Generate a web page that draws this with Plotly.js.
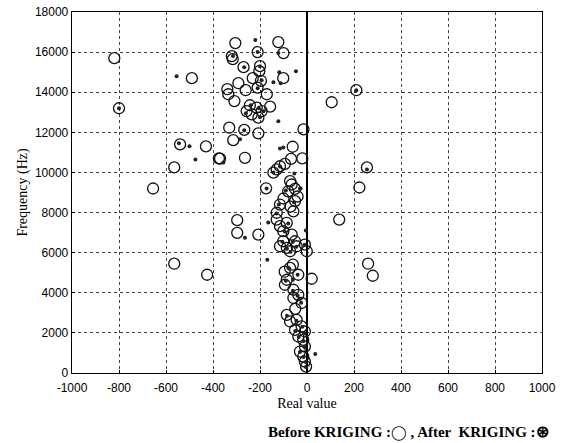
<!DOCTYPE html>
<html>
<head>
<meta charset="utf-8">
<script src="https://cdn.plot.ly/plotly-3.0.1.min.js"></script>
<style>html,body{margin:0;padding:0;background:#fff;}#chart{width:566px;height:443px;}</style>
</head>
<body>
<div id="chart"></div>
<script>
// Before KRIGING (open circles): real value, frequency (Hz)
const beforeX = [-820,-800,-490,-540,-430,-375,-565,-655,-565,-425,
  210,105,-15,-20,255,223,137,260,280,20,
  -305,-122,-210,-100,-320,-316,-270,-200,-203,-101,-231,-196,-292,-339,-335,-261,-210,-171,-309,-243,-214,-257,-193,-157,-207,-235,-331,-267,-207,-314,-370,-264,-61,-68,-94,-115,-143,-129,-72,-65,-80,-51,-174,
  -51,-58,-115,-129,-297,-297,-207,-129,-115,-101,-86,-65,-51,-101,-86,-115,-44,-72,-9,-1,-72,-37,-86,-94,-58,-37,-58,-23,-86,-72,-44,-23,-51,-9,-37,-16,-9,-30,-16,-9,-4,
  -95,-60,-100,-70,-40,-50];
const beforeY = [15700,13200,14700,11400,11300,10700,10250,9200,5450,4900,
  14100,13500,12150,10700,10250,9250,7650,5450,4850,4700,
  16450,16500,16000,15950,15800,15650,15250,15300,15050,14700,14700,14570,14450,14150,13900,14100,14230,13900,13560,13350,13230,13060,13060,13280,12730,12900,12230,12120,11950,11610,10690,10730,11280,10680,10430,10310,9990,10150,9570,9400,9060,9180,9210,
  8570,8060,8400,7990,7620,6990,6900,7650,7320,7070,7490,6900,6570,6570,6240,6320,6320,6070,6400,6070,5240,4900,4650,4400,4150,3900,3740,3490,2900,2570,2650,2320,2150,2070,1820,1650,1320,1070,820,570,320,
  5050,5400,8700,8300,8800,3200];
// After KRIGING (filled dots)
const afterX = [-800,-555,-545,-500,-475,210,255,-27,-5,35,
  -220,-210,-122,-315,-267,-200,-118,-47,-193,-143,-112,-210,-205,-240,-185,-200,-260,-122,-267,-285,-356,-115,-101,-54,-115,-143,-172,-30,
  -165,-264,-169,-90,-55,-120,-130,-95,-80,-60,-105,-85,-45,-70,-10,-80,-75,-40,-90,-60,-40,-25,-85,-45,-20,-50,-10,-35,-15,-10,-30,-15,-5,-5,-60,-30];
const afterY = [13200,14800,11450,11300,10650,14100,10150,9200,7100,950,
  16600,16000,15950,15800,15250,15300,15000,15050,14600,14500,14450,14200,13200,13350,13050,12750,12950,12550,12100,11650,10500,11200,11250,9950,10300,10000,9200,9200,
  7500,6750,5650,9100,8500,8400,7950,7050,7450,6550,6550,6200,6300,6050,6400,5250,5200,4900,4600,4100,3850,3500,2850,2600,2300,2100,2000,1800,1600,1300,1050,800,550,300,4650,3700];

const xTicks = [-1000,-800,-600,-400,-200,0,200,400,600,800,1000];
const yTicks = [0,2000,4000,6000,8000,10000,12000,14000,16000,18000];

const traces = [
  {x: beforeX, y: beforeY, type: 'scatter', mode: 'markers', name: 'Before KRIGING',
   marker: {symbol: 'circle-open', size: 11, color: '#111', line: {width: 1.3, color: '#111'}}},
  {x: afterX, y: afterY, type: 'scatter', mode: 'markers', name: 'After KRIGING',
   marker: {symbol: 'circle', size: 4, color: '#222'}}
];

const axisCommon = {
  showline: true, mirror: true, linecolor: '#000', linewidth: 1.3,
  showgrid: true, gridcolor: '#444', griddash: 'dot', gridwidth: 1,
  ticks: 'inside', ticklen: 3, tickcolor: '#000',
  tickfont: {family: 'Liberation Sans, Arial, sans-serif', size: 12, color: '#000'}
};

const layout = {
  width: 566, height: 443,
  margin: {l: 72, r: 24, t: 12, b: 70},
  paper_bgcolor: '#fff', plot_bgcolor: '#fff',
  showlegend: false,
  xaxis: Object.assign({}, axisCommon, {
    range: [-1000, 1000], tickvals: xTicks, ticktext: xTicks.map(String),
    ticklabelstandoff: 3,
    zeroline: true, zerolinecolor: '#000', zerolinewidth: 1.2,
    title: {text: 'Real value', font: {family: 'Liberation Serif, Times New Roman, serif', size: 14, color: '#000'}, standoff: 4}
  }),
  yaxis: Object.assign({}, axisCommon, {
    range: [0, 18000], tickvals: yTicks, ticktext: yTicks.map(String),
    zeroline: false,
    title: {text: 'Frequency (Hz)', font: {family: 'Liberation Serif, Times New Roman, serif', size: 14, color: '#000'}, standoff: 4}
  }),
  annotations: [{
    xref: 'paper', yref: 'paper', x: 1.02, y: -0.163, xanchor: 'right', yanchor: 'middle',
    showarrow: false,
    text: 'Before KRIGING :<span style="font-family:DejaVu Sans;font-size:14px">\u25EF</span> , After  KRIGING :<span style="font-size:16px">\u229B</span>',
    font: {family: 'Liberation Serif, Times New Roman, serif', size: 15, color: '#000', weight: 'bold'}
  }]
};

Plotly.newPlot('chart', traces, layout, {displayModeBar: false, staticPlot: true});
</script>
</body>
</html>
